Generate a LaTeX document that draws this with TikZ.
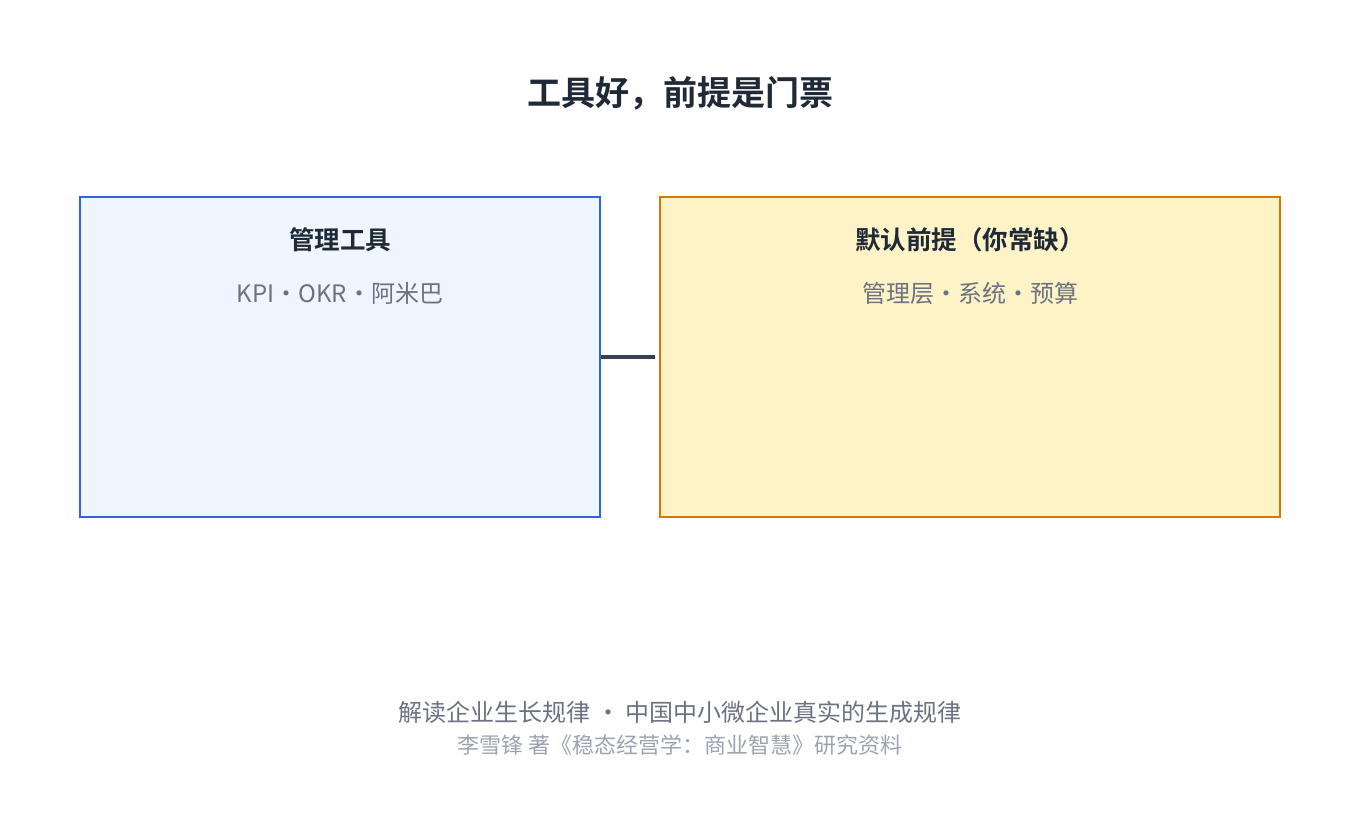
\documentclass[tikz,border=0pt]{standalone}
\usepackage{fontspec}
\setmainfont{Noto Sans CJK SC}[BoldFont={Noto Sans CJK SC Bold}]
\usetikzlibrary{positioning}
\definecolor{ink}{HTML}{1F2937}
\definecolor{muted}{HTML}{6B7280}
\definecolor{faint}{HTML}{9CA3AF}
\definecolor{toolline}{HTML}{2F63E6}
\definecolor{toolfill}{HTML}{EFF6FF}
\definecolor{premline}{HTML}{D97706}
\definecolor{premfill}{HTML}{FEF3C7}
\definecolor{link}{HTML}{374151}
\tikzset{
  box/.style={draw, line width=2.8pt, inner sep=0pt},
  head/.style={font=\fontsize{25.5}{30}\selectfont\bfseries, text=ink},
  sub/.style={font=\fontsize{24}{28}\selectfont, text=muted},
}
\begin{document}
\begin{tikzpicture}[x=1pt,y=-1pt]
\useasboundingbox (0,0) rectangle (1360,830);
% title
\node[font=\fontsize{34}{40}\selectfont\bfseries, text=ink] (title) at (680,93) {工具好，前提是门票};
% two boxes
\node[box, draw=toolline, fill=toolfill, minimum width=520pt, minimum height=320pt] (tools) at (340,357) {};
\node[box, draw=premline, fill=premfill, minimum width=620pt, minimum height=320pt] (prem) at (970,357) {};
\node[head] (toolshead) at (340,240) {管理工具};
\node[sub] (toolssub) at (340,293) {KPI・OKR・阿米巴};
\node[head] (premhead) at (970,240) {默认前提（你常缺）};
\node[sub] (premsub) at (970,293) {管理层・系统・预算};
% connector
\draw[link, line width=3.5pt, shorten >=4pt] (tools.east) -- (prem.west);
% footer
\node[font=\fontsize{24}{28}\selectfont, text=muted] (foot1) at (680,712) {解读企业生长规律 ・ 中国中小微企业真实的生成规律};
\node[font=\fontsize{22}{26}\selectfont, text=faint] (foot2) at (680,745) {李雪锋 著《稳态经营学：商业智慧》研究资料};
\end{tikzpicture}
\end{document}
